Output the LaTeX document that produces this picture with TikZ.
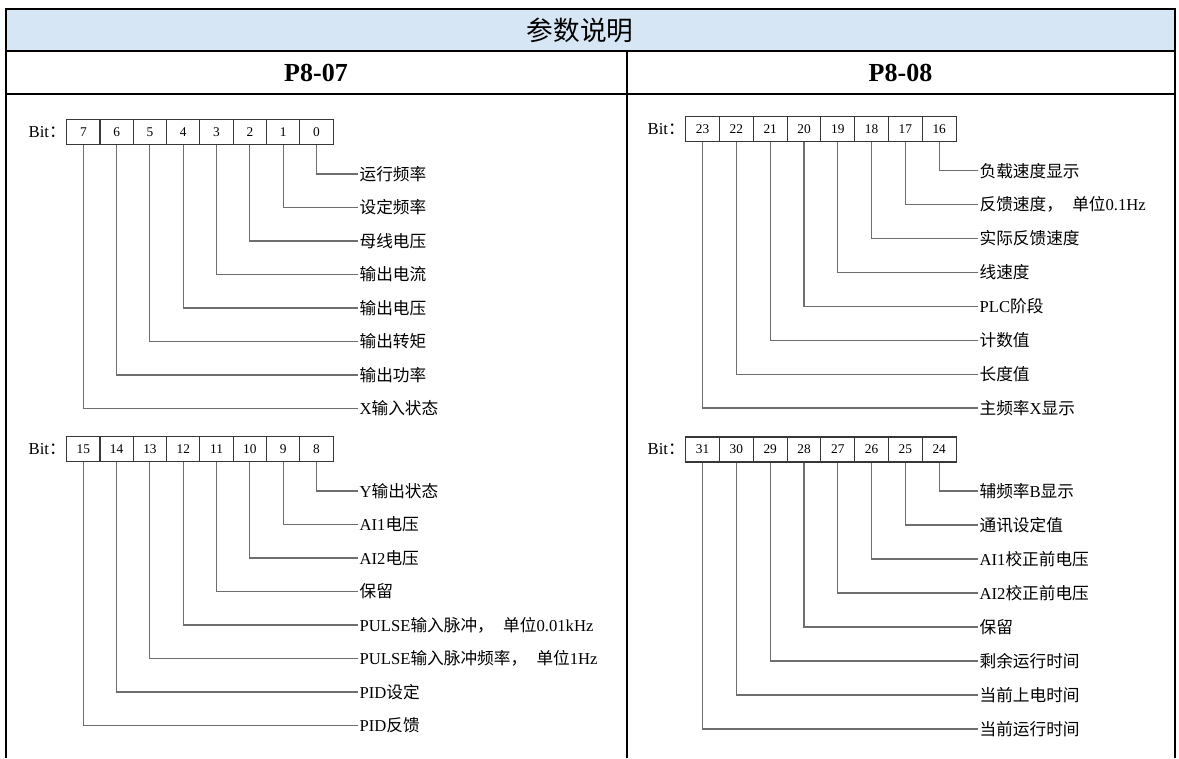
\documentclass[tikz,border=0pt]{standalone}
\usepackage{fontspec}
\setmainfont{Liberation Serif}
\newfontfamily\cjk{Noto Sans CJK SC}
\usepackage{xcolor}
\usepackage{tikz}
\usetikzlibrary{positioning}

\definecolor{headblue}{RGB}{214,230,244}
\definecolor{leadgray}{RGB}{110,110,110}
\definecolor{boxgray}{RGB}{55,55,55}
\newcommand{\zh}[1]{{\cjk #1}}
\newcommand{\zhcomma}{{\cjk ，}\hspace{7pt}}

\tikzset{
  bitbox/.style={draw=boxgray, line width=0.8pt, minimum width=25pt, minimum height=18.75pt,
    inner sep=0pt, font=\fontsize{10}{12}\selectfont},
  bitword/.style={anchor=east, inner sep=0.5pt, font=\fontsize{12.5}{14}\selectfont},
  lbl/.style={anchor=west, inner sep=1pt, font=\fontsize{12.5}{14}\selectfont},
  leader/.style={draw=leadgray, line width=0.8pt},
  frame/.style={line width=1.5pt}
}

\begin{document}
\begin{tikzpicture}[x=0.75pt,y=-0.75pt]
\useasboundingbox (0,0) rectangle (1179,758);
% table frame
\fill[headblue] (5.5,8.5) rectangle (1174.5,51);
\draw[frame] (5.5,758) -- (5.5,8.5) -- (1174.5,8.5) -- (1174.5,758);
\draw[frame] (5.5,51) -- (1174.5,51);
\draw[frame] (5.5,94) -- (1174.5,94);
\draw[frame] (627,51) -- (627,758);
\node[font=\cjk\fontsize{20}{22}\selectfont] (title) at (580,30) {参数说明};
\node[font=\bfseries\fontsize{19.5}{22}\selectfont] (left) at (316,73) {P8-07};
\node[font=\bfseries\fontsize{19.5}{22}\selectfont] (right) at (900.5,73) {P8-08};

% P8-07, bits 7..0
\node[bitword] (bitA) at (66.7,131.8) {Bit\zh{：}};
\foreach \n/\txt [count=\i from 0] in {0/\zh{运行频率},1/\zh{设定频率},2/\zh{母线电压},
    3/\zh{输出电流},4/\zh{输出电压},5/\zh{输出转矩},6/\zh{输出功率},7/X\zh{输入状态}} {
  \node[bitbox] (b\n) at ({66.7+(7.5-\i)*33.3},131.8) {\n};
  \node[lbl] (t\n) at (358,{174+\i*33.5}) {\txt};
  \draw[leader] (b\n.south) |- (t\n.west);
}

% P8-07, bits 15..8
\node[bitword] (bitB) at (66.7,449.2) {Bit\zh{：}};
\foreach \n/\txt [count=\i from 0] in {8/Y\zh{输出状态},9/AI1\zh{电压},10/AI2\zh{电压},
    11/\zh{保留},12/PULSE\zh{输入脉冲}\zhcomma\zh{单位}0.01kHz,
    13/PULSE\zh{输入脉冲频率}\zhcomma\zh{单位}1Hz,14/PID\zh{设定},15/PID\zh{反馈}} {
  \node[bitbox] (b\n) at ({66.7+(7.5-\i)*33.3},449.2) {\n};
  \node[lbl] (t\n) at (358,{491+\i*33.5}) {\txt};
  \draw[leader] (b\n.south) |- (t\n.west);
}

% P8-08, bits 23..16
\node[bitword] (bitC) at (685.7,129.2) {Bit\zh{：}};
\foreach \n/\txt [count=\i from 0] in {16/\zh{负载速度显示},17/\zh{反馈速度}\zhcomma\zh{单位}0.1Hz,
    18/\zh{实际反馈速度},19/\zh{线速度},20/PLC\zh{阶段},21/\zh{计数值},22/\zh{长度值},
    23/\zh{主频率}X\zh{显示}} {
  \node[bitbox, minimum width=25.35pt] (b\n) at ({685.7+(7.5-\i)*33.8},129.2) {\n};
  \node[lbl] (t\n) at (978,{170.7+\i*33.9}) {\txt};
  \draw[leader] (b\n.south) |- (t\n.west);
}

% P8-08, bits 31..24
\node[bitword] (bitD) at (685.7,449.5) {Bit\zh{：}};
\foreach \n/\txt [count=\i from 0] in {24/\zh{辅频率}B\zh{显示},25/\zh{通讯设定值},
    26/AI1\zh{校正前电压},27/AI2\zh{校正前电压},28/\zh{保留},29/\zh{剩余运行时间},
    30/\zh{当前上电时间},31/\zh{当前运行时间}} {
  \node[bitbox, minimum width=25.35pt] (b\n) at ({685.7+(7.5-\i)*33.8},449.5) {\n};
  \node[lbl] (t\n) at (978,{491+\i*34}) {\txt};
  \draw[leader] (b\n.south) |- (t\n.west);
}
\end{tikzpicture}
\end{document}
